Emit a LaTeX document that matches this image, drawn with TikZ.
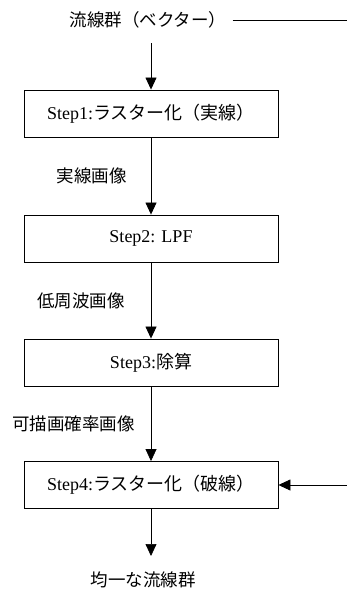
\documentclass[tikz,border=0pt]{standalone}
\usepackage{fontspec}
\setmainfont{Liberation Serif}
\newfontfamily\cjk{Noto Sans CJK JP}
\usetikzlibrary{arrows.meta}

\tikzset{
	stepbox/.style={draw, line width=0.9pt, minimum width=254pt, minimum height=47pt, inner sep=0pt, font=\fontsize{18}{21}\selectfont},
	lbl/.style={font=\cjk\fontsize{17.5}{20}\selectfont, inner sep=0pt},
	flow/.style={-{Triangle[width=11pt,length=12pt]}, line width=0.7pt}
}

\begin{document}
\begin{tikzpicture}[x=1pt, y=-1pt]
	\useasboundingbox (0,0) rectangle (347,589);
	\node (src) at (148,20) [lbl] {流線群（ベクター）};
	\coordinate (srcend) at (347,20);
	\coordinate (in1) at (151,43);
		\node (s1) at (151,113.5) [stepbox] {Step1:{\cjk ラスター化（実線）}};
		\node (s2) at (151,238.5) [stepbox] {Step2: LPF};
		\node (s3) at (151,362.5) [stepbox] {Step3:{\cjk 除算}};
		\node (s4) at (151,485) [stepbox] {Step4:{\cjk ラスター化（破線）}};
	\coordinate (rin) at (347,485);
	\coordinate (outend) at (151,556);
	\node (out) at (143,580) [lbl] {均一な流線群};
	\draw[line width=0.7pt] (src.east) ++(6,0) -- (srcend);
	\draw[flow] (in1) to (s1);
	\draw[flow] (s1) to node [lbl, left=24pt] {実線画像} (s2);
	\draw[flow] (s2) to node [lbl, left=26pt] {低周波画像} (s3);
	\draw[flow] (s3) to node [lbl, left=16pt] {可描画確率画像} (s4);
	\draw[flow] (rin) to (s4);
	\draw[flow] (s4) to (outend);
\end{tikzpicture}
\end{document}
